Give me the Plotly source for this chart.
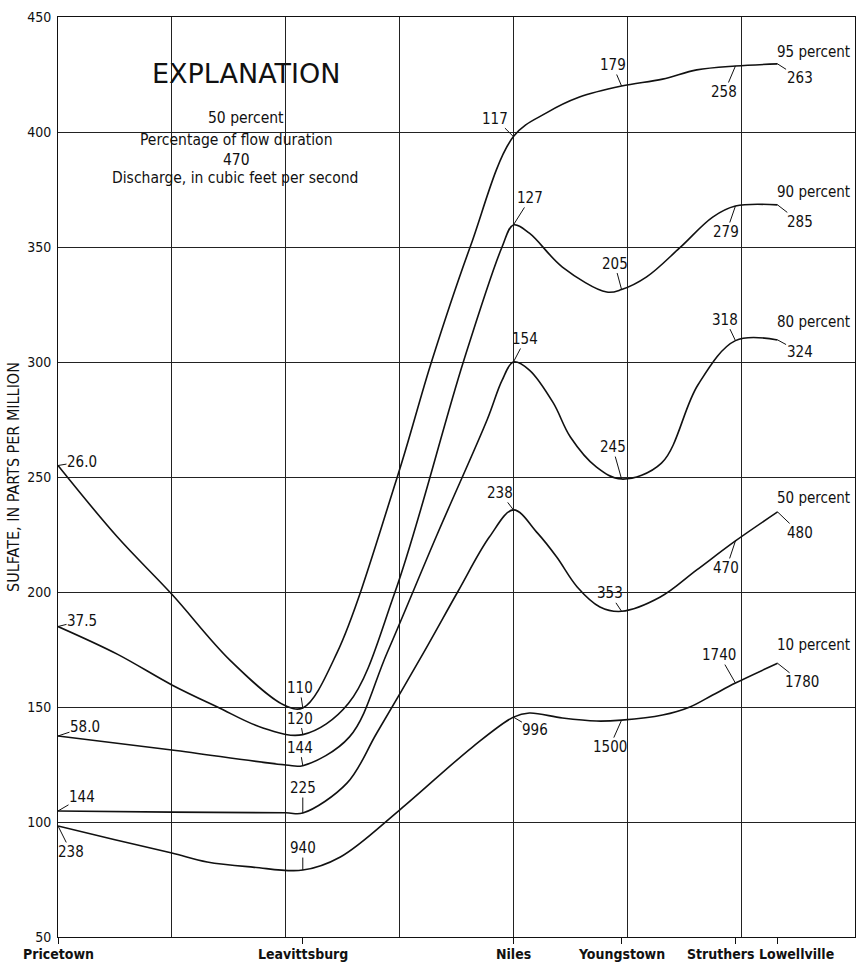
import plotly.graph_objects as go

# Stations along the river (x in chart grid units, one grid cell per unit)
towns = ["Pricetown", "Leavittsburg", "Niles", "Youngstown", "Struthers", "Lowellville"]
town_x = [0.0, 2.15, 4.0, 4.95, 5.95, 6.32]

# Sulfate concentration (ppm) profiles for each flow-duration percentage
x_95 = [0.0, 0.52, 1.0, 1.51, 1.98, 2.15, 2.45, 2.98, 3.28, 3.62, 4.0,
        4.29, 4.58, 4.95, 5.31, 5.61, 5.95, 6.32]
y_95 = [255, 224, 199, 170.4, 151, 149.6, 173.5, 250, 300, 350, 398,
        408.3, 415.2, 420, 423, 427, 428.7, 429.6]
q_95 = ["26.0", "110", "117", "179", "258", "263"]

x_90 = [0.0, 0.52, 1.0, 1.40, 1.80, 2.15, 2.55, 2.96, 3.56, 3.90,
        4.0, 4.14, 4.43, 4.82, 4.95, 5.17, 5.46, 5.75, 5.95, 6.32]
y_90 = [185, 173, 159.6, 150, 140.9, 138, 151.5, 200, 300, 350,
        359.6, 356, 341.3, 330.4, 331.5, 337, 349.6, 363, 367.8, 368.3]
q_90 = ["37.5", "120", "127", "205", "279", "285"]

x_80 = [0.0, 1.0, 2.0, 2.15, 2.56, 2.89, 3.33, 3.77, 3.90, 4.0,
        4.14, 4.35, 4.50, 4.73, 4.95, 5.30, 5.62, 5.95, 6.32]
y_80 = [137.4, 131.3, 124.8, 124.5, 137, 173.5, 225, 275, 292, 300,
        296.5, 282.2, 267.4, 254.3, 249.1, 256, 290, 309.3, 309.6]
q_80 = ["58.0", "144", "154", "245", "318", "324"]

x_50 = [0.0, 1.0, 2.0, 2.15, 2.54, 2.80, 3.21, 3.51, 3.79, 4.0,
        4.21, 4.38, 4.56, 4.76, 4.95, 5.29, 5.61, 5.95, 6.32]
y_50 = [104.8, 104.3, 104.0, 103.9, 117, 138.7, 173.5, 200, 224, 235.7,
        225.7, 215.2, 202.2, 193.5, 191.6, 197.8, 209.6, 222.2, 234.8]
q_50 = ["144", "225", "238", "353", "470", "480"]

x_10 = [0.0, 0.5, 1.0, 1.31, 1.71, 2.15, 2.48, 3.0, 3.64, 4.0,
        4.14, 4.43, 4.73, 4.95, 5.31, 5.55, 5.75, 5.95, 6.32]
y_10 = [98.3, 92.3, 86.5, 82.6, 80.4, 79.1, 84.8, 105.2, 132.6, 145.6,
        147.4, 145.2, 143.9, 144.3, 146.5, 150, 155.2, 160.4, 169]
q_10 = ["238", "940", "996", "1500", "1740", "1780"]

percents = ["95 percent", "90 percent", "80 percent", "50 percent", "10 percent"]
profiles = [(x_95, y_95, q_95), (x_90, y_90, q_90), (x_80, y_80, q_80),
            (x_50, y_50, q_50), (x_10, y_10, q_10)]

# Pixel offsets of each discharge label from its station point (ax, ay)
label_offsets = [
    [(24, -4), (-3, -20), (-18, -18), (-9, -21), (-11, 26), (22, 14)],
    [(24, -6), (-3, -16), (17, -27), (-7, -26), (-9, 26), (22, 17)],
    [(27, -9), (-3, -18), (12, -23), (-9, -32), (-10, -21), (22, 12)],
    [(24, -14), (0, -25), (-13, -17), (-12, -18), (-9, 27), (22, 21)],
    [(13, 26), (0, -22), (22, 13), (-12, 27), (-16, -28), (24, 19)],
]
percent_yshift = [12, 13, 18, 14, 18]
# Horizontal nudges of the station names under the axis
town_xshift = [0, 0, 0, 0, -14, 19]

FONT = "DejaVu Sans Condensed, Liberation Sans Narrow, sans-serif"
INK = "#111111"
GRID = "#222222"

fig = go.Figure()
annotations = []
for (xs, ys, qs), pct, offs, ysh in zip(profiles, percents, label_offsets, percent_yshift):
    fig.add_trace(go.Scatter(
        x=xs, y=ys, mode="lines", name=pct,
        line=dict(color=INK, width=1.6, shape="spline", smoothing=1.0),
        hoverinfo="skip", showlegend=False,
    ))
    for tx, q, (ax, ay) in zip(town_x, qs, offs):
        yv = ys[xs.index(tx)]
        annotations.append(dict(
            x=tx, y=yv, xref="x", yref="y", text=q,
            showarrow=True, arrowhead=0, arrowwidth=1, arrowcolor=INK,
            ax=ax, ay=ay, standoff=0, borderpad=0,
            font=dict(family=FONT, size=15, color=INK),
        ))
    annotations.append(dict(
        x=xs[-1], y=ys[-1], xref="x", yref="y", text=pct, showarrow=False,
        xanchor="left", yanchor="middle", xshift=-3, yshift=ysh,
        font=dict(family=FONT, size=15, color=INK),
    ))

# Station names below the axis
for tx, name, dx in zip(town_x, towns, town_xshift):
    annotations.append(dict(
        x=tx, y=0, xref="x", yref="paper", text=name, showarrow=False,
        xanchor="center", yanchor="top", xshift=dx, yshift=-7,
        font=dict(family=FONT, size=14, color=INK, weight="bold"),
    ))

# Explanation block
expl = [
    ("EXPLANATION", 0.236, 0.939, "DejaVu Sans, sans-serif", 27),
    ("50 percent", 0.236, 0.890, FONT, 15.5),
    ("Percentage of flow duration", 0.2233, 0.866, FONT, 15.5),
    ("470", 0.2245, 0.8445, FONT, 15.5),
    ("Discharge, in cubic feet per second", 0.222, 0.8245, FONT, 15.5),
]
for txt, px, py, fam, sz in expl:
    annotations.append(dict(
        x=px, y=py, xref="paper", yref="paper", text=txt, showarrow=False,
        xanchor="center", yanchor="middle",
        font=dict(family=fam, size=sz, color=INK),
    ))

fig.update_layout(
    width=856, height=966,
    margin=dict(l=58, r=1, t=17, b=29),
    paper_bgcolor="white", plot_bgcolor="white",
    annotations=annotations,
    shapes=[dict(type="rect", xref="paper", yref="paper",
                 x0=0.0966, x1=0.3576, y0=0.812, y1=0.961,
                 fillcolor="white", line=dict(width=0), layer="between")],
)

fig.update_xaxes(
    range=[0, 7], tickvals=town_x, showticklabels=False, automargin=False,
    showgrid=False, ticks="outside", ticklen=6, tickcolor=INK,
    showline=True, linecolor=INK, linewidth=1, mirror=True, zeroline=False,
    minor=dict(tick0=0, dtick=1, showgrid=True, gridcolor=GRID, gridwidth=1, ticks=""),
)
fig.update_yaxes(
    range=[50, 450], dtick=50, tick0=50, automargin=False,
    showgrid=True, gridcolor=GRID, gridwidth=1,
    ticks="", ticklabelstandoff=3,
    tickfont=dict(family=FONT, size=14, color=INK),
    showline=True, linecolor=INK, linewidth=1, mirror=True, zeroline=False,
    title=dict(text="SULFATE, IN PARTS PER MILLION", standoff=3,
               font=dict(family=FONT, size=16, color=INK)),
)

fig.write_html("out.html")
